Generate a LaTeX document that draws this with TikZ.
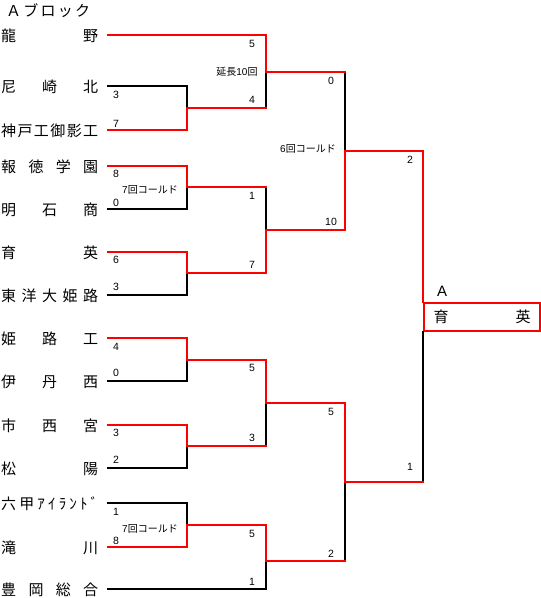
\documentclass[tikz,border=0pt]{standalone}
\usepackage{fontspec}
\setmainfont{Liberation Sans}
\newfontfamily\jp{Noto Sans CJK JP}
\begin{document}
\begin{tikzpicture}[x=1pt,y=-1pt,
  winline/.style={red, line width=1.8pt, line cap=rect},
  loseline/.style={black, line width=1.8pt, line cap=rect},
  team/.style={anchor=base west, inner sep=0pt, font=\fontsize{15}{15}\selectfont\jp},
  score/.style={inner sep=0pt, text height=7.5pt, text depth=0pt, font=\fontsize{10.5}{10.5}\selectfont},
  note/.style={inner sep=0pt, text height=7.2pt, text depth=0pt, font=\fontsize{10}{10}\selectfont\jp},
]
\useasboundingbox (0,0) rectangle (541,598);

% title
\node[team] (title) at (6,16) {\makebox[84pt][s]{Ａ\hfill ブ\hfill ロ\hfill ッ\hfill ク}};

% teams
\node[team] (t1)  at (1,41)  {\makebox[97pt]{龍\hfill 野}};
\node[team] (t2)  at (1,92)  {\makebox[97pt]{尼\hfill 崎\hfill 北}};
\node[team] (t3)  at (1,136) {\makebox[97pt]{神\hfill 戸\hfill 工\hfill 御\hfill 影\hfill 工}};
\node[team] (t4)  at (1,172) {\makebox[97pt]{報\hfill 徳\hfill 学\hfill 園}};
\node[team] (t5)  at (1,215) {\makebox[97pt]{明\hfill 石\hfill 商}};
\node[team] (t6)  at (1,258) {\makebox[97pt]{育\hfill 英}};
\node[team] (t7)  at (1,301) {\makebox[97pt]{東\hfill 洋\hfill 大\hfill 姫\hfill 路}};
\node[team] (t8)  at (1,344) {\makebox[97pt]{姫\hfill 路\hfill 工}};
\node[team] (t9)  at (1,387) {\makebox[97pt]{伊\hfill 丹\hfill 西}};
\node[team] (t10) at (1,431) {\makebox[97pt]{市\hfill 西\hfill 宮}};
\node[team] (t11) at (1,474) {\makebox[97pt]{松\hfill 陽}};
\node[team] (t12) at (1,509) {\makebox[97pt]{六\hfill 甲\hfill ｱ\hfill ｲ\hfill ﾗ\hfill ﾝ\hfill ﾄ\hfill ﾞ}};
\node[team] (t13) at (1,553) {\makebox[97pt]{滝\hfill 川}};
\node[team] (t14) at (1,595) {\makebox[97pt]{豊\hfill 岡\hfill 総\hfill 合}};

% winner box
\node[draw=red, line width=1.8pt, minimum width=116pt, minimum height=28pt, inner sep=0pt,
      font=\fontsize{15}{15}\selectfont\jp] (champ) at (482,317) {\makebox[97pt]{育\hfill 英}};
\node[inner sep=0pt, text height=10.7pt, text depth=0pt, font=\fontsize{15}{15}\selectfont] (blk) at (442,291) {A};

% line starts
\coordinate (s1) at (108,35);
\coordinate (s2) at (108,86);
\coordinate (s3) at (108,130);
\coordinate (s4) at (108,166);
\coordinate (s5) at (108,209);
\coordinate (s6) at (108,252);
\coordinate (s7) at (108,295);
\coordinate (s8) at (108,338);
\coordinate (s9) at (108,381);
\coordinate (s10) at (108,425);
\coordinate (s11) at (108,468);
\coordinate (s12) at (108,503);
\coordinate (s13) at (108,547);
\coordinate (s14) at (108,589);
% junctions
\coordinate (m1) at (187,108);
\coordinate (m2) at (187,187);
\coordinate (m3) at (187,273);
\coordinate (m4) at (187,360);
\coordinate (m5) at (187,446);
\coordinate (m6) at (187,525);
\coordinate (q1) at (266,72);
\coordinate (q2) at (266,230);
\coordinate (q3) at (266,403);
\coordinate (q4) at (266,561);
\coordinate (r1) at (345,151);
\coordinate (r2) at (345,482);

% losing lines
\draw[loseline] (s2) -| (m1);
\draw[loseline] (s5) -| (m2);
\draw[loseline] (s7) -| (m3);
\draw[loseline] (s9) -| (m4);
\draw[loseline] (s11) -| (m5);
\draw[loseline] (s12) -| (m6);
\draw[loseline] (q1) -- (q1 |- m1);
\draw[loseline] (m2 -| q2) -- (q2);
\draw[loseline] (q3) -- (q3 |- m5);
\draw[loseline] (s14) -| (q4);
\draw[loseline] (r1 |- q1) -- (r1);
\draw[loseline] (r2) -- (r2 |- q4);
\draw[loseline] (champ.south west) -- (champ.south west |- r2);

% winning lines
\draw[winline] (s1) -| (q1) -- (q1 -| r1);
\draw[winline] (s3) -| (m1) -- (m1 -| q1);
\draw[winline] (s4) -| (m2) -- (m2 -| q2);
\draw[winline] (s6) -| (m3) -- (m3 -| q2) -- (q2) -- (q2 -| r1) -- (r1) -- (r1 -| champ.west) -- (champ.north west);
\draw[winline] (s8) -| (m4) -- (m4 -| q3) -- (q3) -- (q3 -| r2) -- (r2) -- (r2 -| champ.west);
\draw[winline] (s10) -| (m5) -- (m5 -| q3);
\draw[winline] (s13) -| (m6) -- (m6 -| q4) -- (q4) -- (q4 -| r2);

% round 1 scores
\node[score] (a2) at (116,95) {3};
\node[score] (a3) at (116,124) {7};
\node[score] (a4) at (116,174) {8};
\node[score] (a5) at (116,203) {0};
\node[score] (a6) at (116,260) {6};
\node[score] (a7) at (116,287) {3};
\node[score] (a8) at (116,347) {4};
\node[score] (a9) at (116,373) {0};
\node[score] (a10) at (116,433) {3};
\node[score] (a11) at (116,460) {2};
\node[score] (a12) at (116,512) {1};
\node[score] (a13) at (116,541) {8};

% round 2 scores
\node[score] (b1) at (252,44) {5};
\node[score] (b2) at (252,100) {4};
\node[score] (b3) at (252,196) {1};
\node[score] (b4) at (252,265) {7};
\node[score] (b5) at (252,368) {5};
\node[score] (b6) at (252,438) {3};
\node[score] (b7) at (252,534) {5};
\node[score] (b8) at (252,582) {1};

% round 3 scores
\node[score] (c1) at (331,81) {0};
\node[score] (c2) at (331,222) {10};
\node[score] (c3) at (331,412) {5};
\node[score] (c4) at (331,554) {2};

% final scores
\node[score] (d1) at (410,160) {2};
\node[score] (d2) at (410,467) {1};

% notes
\node[note] (n1) at (237,72) {延長{\rmfamily 10}回};
\node[note] (n2) at (308,149) {{\rmfamily 6}回コールド};
\node[note] (n3) at (150,190) {{\rmfamily 7}回コールド};
\node[note] (n4) at (150,529) {{\rmfamily 7}回コールド};
\end{tikzpicture}
\end{document}
